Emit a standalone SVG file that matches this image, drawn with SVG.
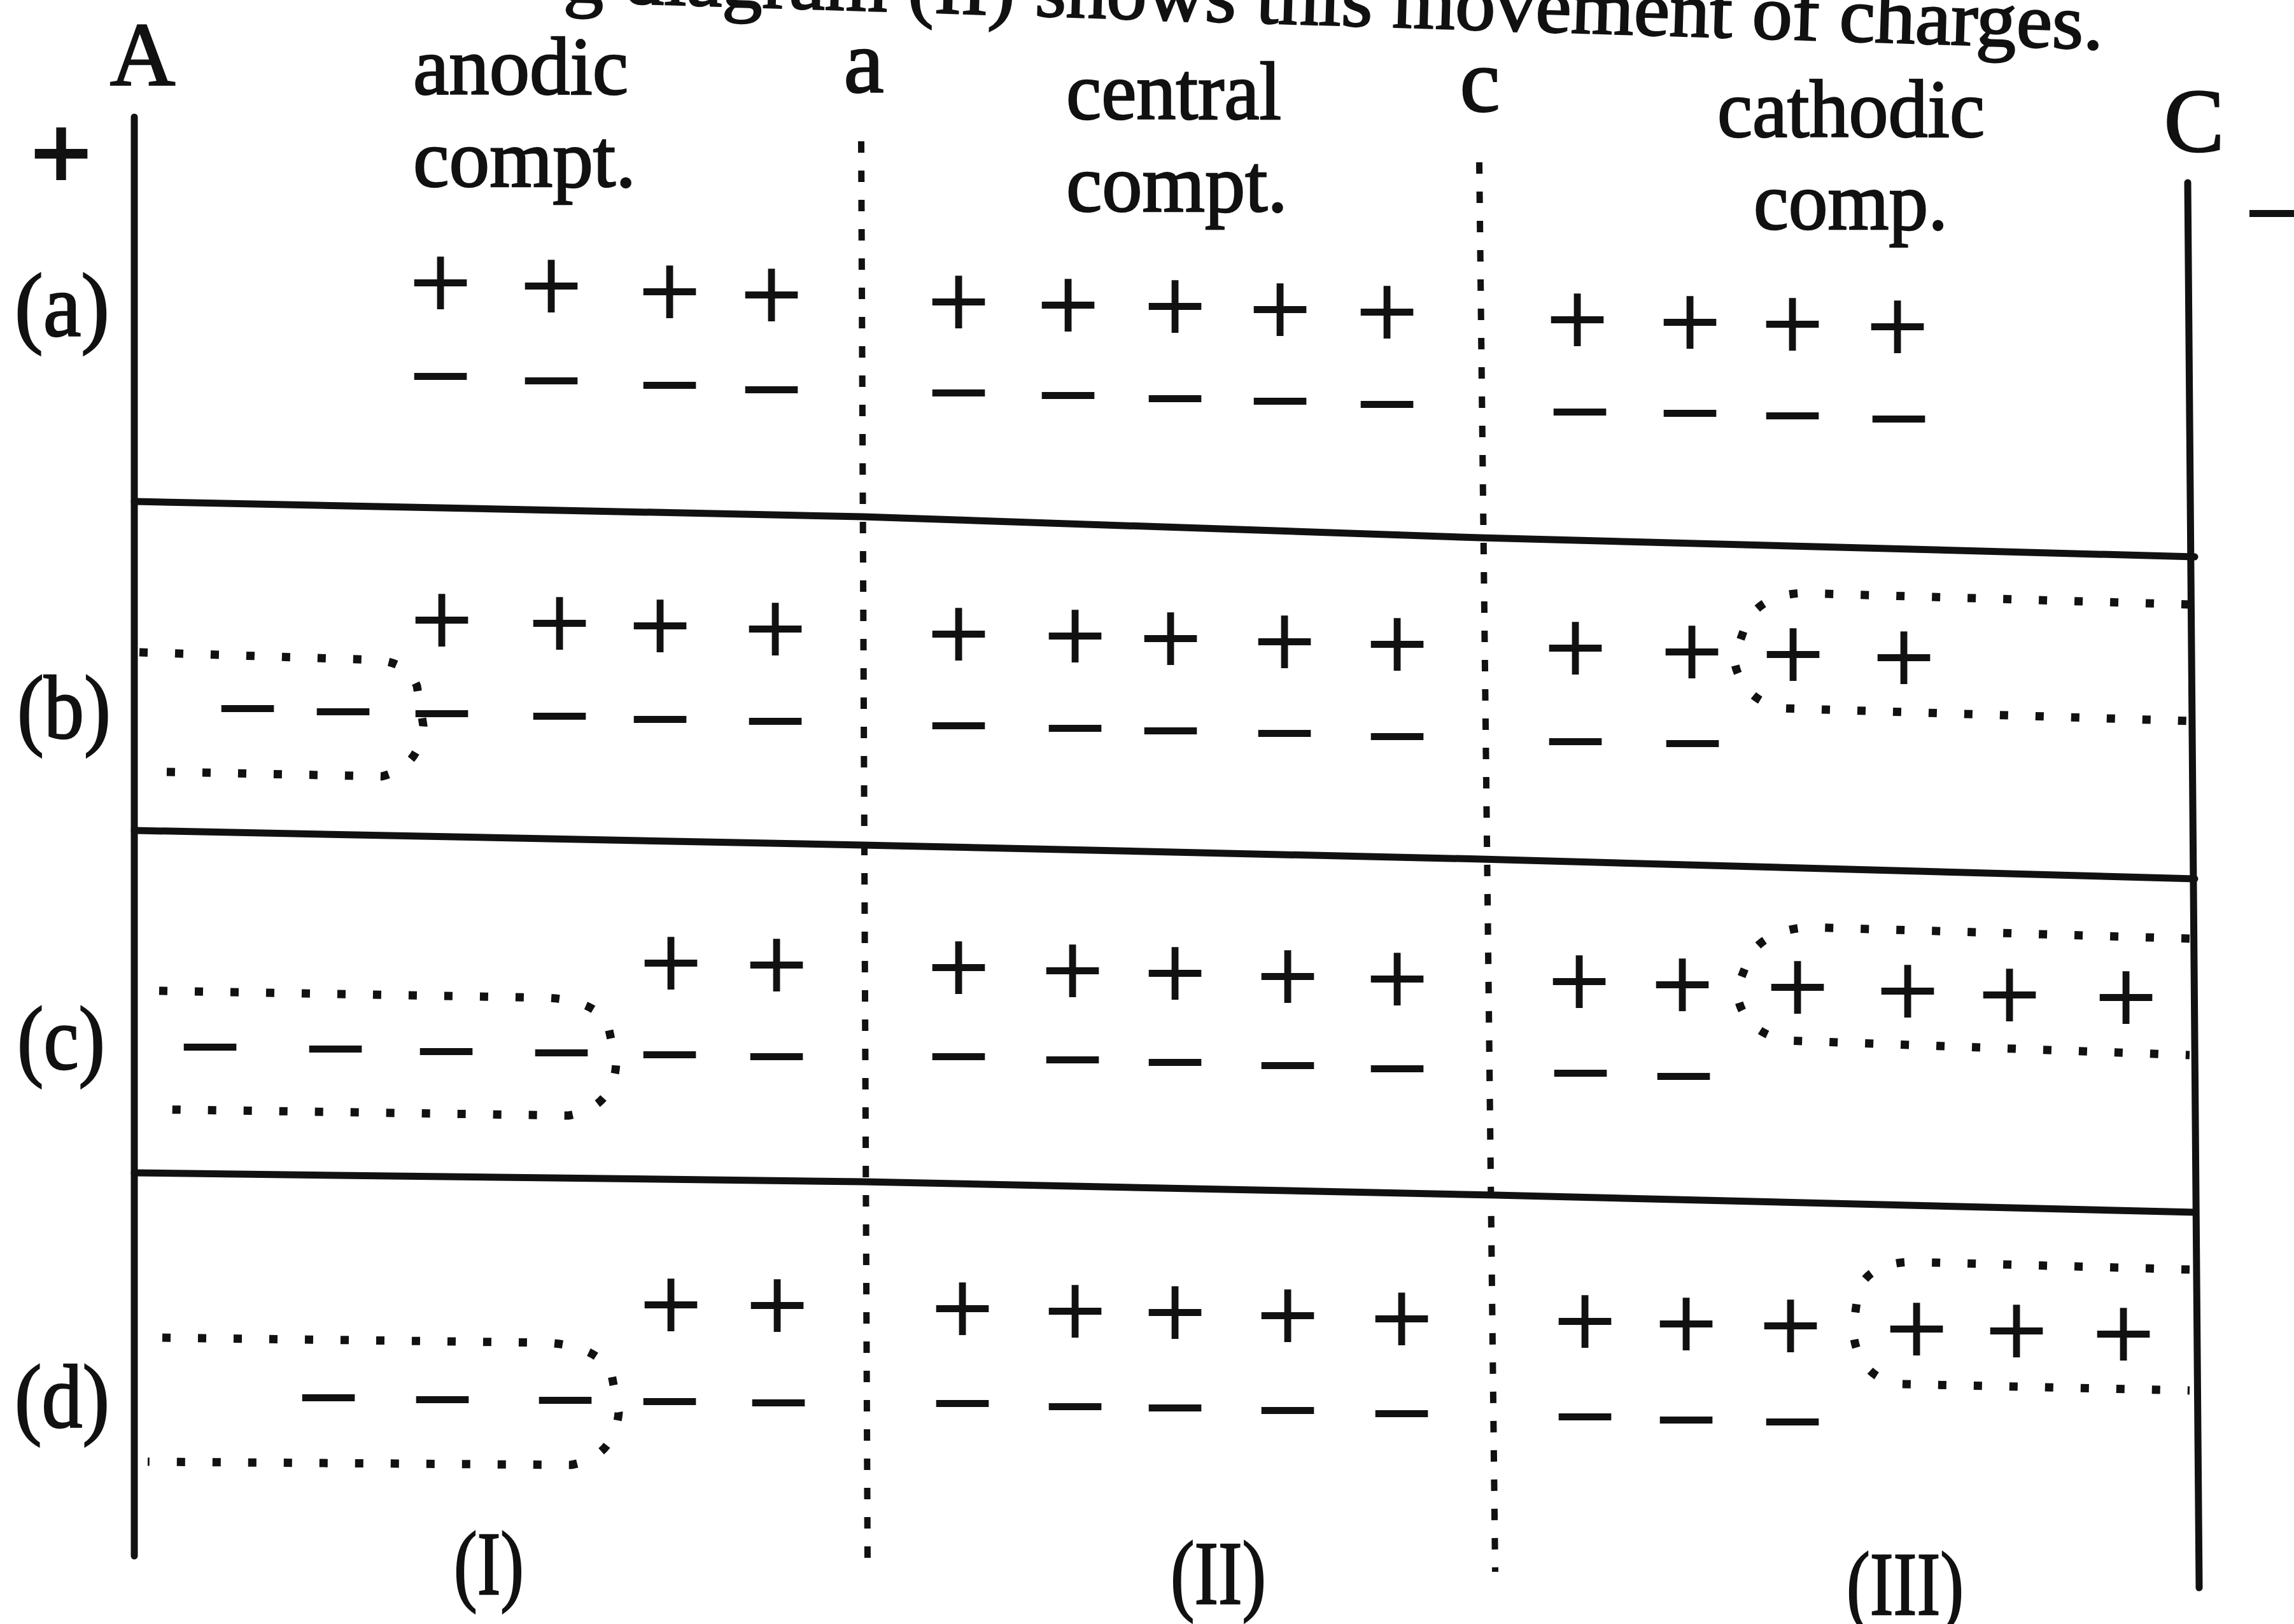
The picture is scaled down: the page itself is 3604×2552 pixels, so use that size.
<svg xmlns="http://www.w3.org/2000/svg" width="3604" height="2552" viewBox="0 0 3604 2552">
<style>
.lbl{font-family:"Liberation Serif","Times New Roman",serif;font-size:142px;fill:#111;stroke:#111;stroke-width:2.5}
.hd{font-size:130px}
.top{font-family:"Liberation Serif","Times New Roman",serif;font-size:122px;fill:#111;stroke:#111;stroke-width:2.5}
.q{font-family:"DejaVu Sans","Liberation Sans",sans-serif;font-size:132px;fill:#111;text-anchor:middle}
.solid{fill:none;stroke:#111;stroke-width:11;stroke-linecap:round;stroke-linejoin:round}
.sep{fill:none;stroke:#111;stroke-width:10;stroke-dasharray:18 28}
.box{fill:none;stroke:#111;stroke-width:13;stroke-dasharray:13 43}
</style>
<rect width="3604" height="2552" fill="#fff"/>
<g id="caption">
<text class="top" x="885" y="2" transform="rotate(1.78 885 2)" textLength="2420" lengthAdjust="spacingAndGlyphs">g diagram (II) shows this movement of charges.</text>
</g>
<g id="connectors">
<line class="solid" x1="211" y1="184" x2="211" y2="2445"/>
<line class="solid" x1="3437" y1="287" x2="3455" y2="2495"/>
<line class="sep" x1="1353" y1="222" x2="1363" y2="2458"/>
<line class="sep" x1="2324" y1="255" x2="2349" y2="2470"/>
<polyline class="solid" stroke-width="13" points="211,788 1356,812 2326,845 3448,875"/>
<polyline class="solid" stroke-width="13" points="211,1305 1356,1328 2326,1350 3448,1381"/>
<polyline class="solid" stroke-width="13" points="211,1843 1356,1857 2349,1878 3448,1905"/>
</g>
<g id="header">
<text class="lbl" x="224" y="133" text-anchor="middle">A</text>
<text class="q" x="96" y="283" font-weight="bold" font-size="140">+</text>
<text class="lbl hd" x="649" y="148" textLength="338" lengthAdjust="spacingAndGlyphs">anodic</text>
<text class="lbl hd" x="649" y="293" textLength="350" lengthAdjust="spacingAndGlyphs">compt.</text>
<text class="lbl" x="1357" y="145" text-anchor="middle">a</text>
<text class="lbl hd" x="1675" y="187" textLength="338" lengthAdjust="spacingAndGlyphs">central</text>
<text class="lbl hd" x="1675" y="332" textLength="348" lengthAdjust="spacingAndGlyphs">compt.</text>
<text class="lbl" x="2325" y="175" text-anchor="middle">c</text>
<text class="lbl hd" x="2698" y="215" textLength="420" lengthAdjust="spacingAndGlyphs">cathodic</text>
<text class="lbl hd" x="2755" y="360" textLength="305" lengthAdjust="spacingAndGlyphs">comp.</text>
<text class="lbl" x="3447" y="238" text-anchor="middle">C</text>
<text class="q" x="3520" y="377" style="text-anchor:start">−</text>
</g>
<g id="row-a">
<text class="lbl" x="23" y="528" textLength="149" lengthAdjust="spacingAndGlyphs">(a)</text>
<g transform="translate(0,-21)">
<text class="q" x="692" y="507">+</text><text class="q" x="866" y="512">+</text><text class="q" x="1052" y="521">+</text><text class="q" x="1212" y="526">+</text>
<text class="q" x="1506" y="537">+</text><text class="q" x="1678" y="542">+</text><text class="q" x="1846" y="544">+</text><text class="q" x="2011" y="549">+</text><text class="q" x="2179" y="553">+</text>
<text class="q" x="2478" y="565">+</text><text class="q" x="2655" y="569">+</text><text class="q" x="2816" y="572">+</text><text class="q" x="2981" y="576">+</text>
<text class="q" x="692" y="654">−</text><text class="q" x="866" y="661">−</text><text class="q" x="1052" y="668">−</text><text class="q" x="1212" y="675">−</text>
<text class="q" x="1506" y="680">−</text><text class="q" x="1678" y="684">−</text><text class="q" x="1846" y="689">−</text><text class="q" x="2011" y="693">−</text><text class="q" x="2179" y="698">−</text>
<text class="q" x="2482" y="710">−</text><text class="q" x="2655" y="712">−</text><text class="q" x="2816" y="716">−</text><text class="q" x="2983" y="721">−</text>
</g>
</g>
<g id="row-b">
<text class="lbl" x="27" y="1160" textLength="147" lengthAdjust="spacingAndGlyphs">(b)</text>
<path class="box" d="M219 1025 L590 1037 Q640 1040 655 1078 L665 1140 Q660 1205 600 1220 L219 1212"/>
<path class="box" d="M3440 950 L2830 932 Q2770 935 2745 975 L2724 1035 Q2735 1100 2800 1113 L3440 1133"/>
<g transform="translate(0,-21)">
<text class="q" x="694" y="1037">+</text><text class="q" x="879" y="1042">+</text><text class="q" x="1037" y="1046">+</text><text class="q" x="1218" y="1051">+</text>
<text class="q" x="1506" y="1059">+</text><text class="q" x="1689" y="1062">+</text><text class="q" x="1839" y="1066">+</text><text class="q" x="2018" y="1071">+</text><text class="q" x="2195" y="1075">+</text>
<text class="q" x="2475" y="1081">+</text><text class="q" x="2658" y="1087">+</text><text class="q" x="2817" y="1091">+</text><text class="q" x="2991" y="1096">+</text>
<text class="q" x="389" y="1176">−</text><text class="q" x="539" y="1181">−</text><text class="q" x="694" y="1184">−</text><text class="q" x="879" y="1188">−</text><text class="q" x="1037" y="1193">−</text><text class="q" x="1218" y="1196">−</text>
<text class="q" x="1506" y="1203">−</text><text class="q" x="1689" y="1207">−</text><text class="q" x="1839" y="1211">−</text><text class="q" x="2018" y="1215">−</text><text class="q" x="2195" y="1220">−</text>
<text class="q" x="2475" y="1228">−</text><text class="q" x="2659" y="1231">−</text>
</g>
</g>
<g id="row-c">
<text class="lbl" x="27" y="1680" textLength="138" lengthAdjust="spacingAndGlyphs">(c)</text>
<path class="box" d="M250 1557 L860 1568 Q935 1572 955 1610 L968 1670 Q965 1740 893 1753 L228 1743"/>
<path class="box" d="M3440 1475 L2840 1457 Q2775 1462 2750 1500 L2728 1555 Q2735 1620 2805 1635 L3440 1658"/>
<g transform="translate(0,-21)">
<text class="q" x="1054" y="1576">+</text><text class="q" x="1220" y="1579">+</text>
<text class="q" x="1506" y="1583">+</text><text class="q" x="1685" y="1588">+</text><text class="q" x="1846" y="1592">+</text><text class="q" x="2023" y="1597">+</text><text class="q" x="2195" y="1601">+</text>
<text class="q" x="2481" y="1605">+</text><text class="q" x="2643" y="1610">+</text><text class="q" x="2824" y="1614">+</text><text class="q" x="2997" y="1620">+</text><text class="q" x="3157" y="1626">+</text><text class="q" x="3340" y="1630">+</text>
<text class="q" x="330" y="1708">−</text><text class="q" x="527" y="1711">−</text><text class="q" x="701" y="1715">−</text><text class="q" x="882" y="1717">−</text><text class="q" x="1052" y="1720">−</text><text class="q" x="1220" y="1723">−</text>
<text class="q" x="1506" y="1723">−</text><text class="q" x="1685" y="1728">−</text><text class="q" x="1846" y="1732">−</text><text class="q" x="2023" y="1737">−</text><text class="q" x="2195" y="1742">−</text>
<text class="q" x="2483" y="1749">−</text><text class="q" x="2645" y="1754">−</text>
</g>
</g>
<g id="row-d">
<text class="lbl" x="23" y="2243" textLength="149" lengthAdjust="spacingAndGlyphs">(d)</text>
<path class="box" d="M255 2102 L860 2110 Q935 2115 960 2155 L972 2220 Q965 2290 897 2302 L232 2297"/>
<path class="box" d="M3440 1995 L3000 1983 Q2940 1985 2920 2025 L2911 2090 Q2918 2165 2985 2175 L3440 2185"/>
<g transform="translate(0,-21)">
<text class="q" x="1054" y="2113">+</text><text class="q" x="1221" y="2114">+</text>
<text class="q" x="1512" y="2119">+</text><text class="q" x="1689" y="2123">+</text><text class="q" x="1846" y="2125">+</text><text class="q" x="2023" y="2130">+</text><text class="q" x="2202" y="2135">+</text>
<text class="q" x="2490" y="2139">+</text><text class="q" x="2649" y="2143">+</text><text class="q" x="2813" y="2146">+</text><text class="q" x="3011" y="2151">+</text><text class="q" x="3168" y="2154">+</text><text class="q" x="3336" y="2159">+</text>
<text class="q" x="516" y="2259">−</text><text class="q" x="695" y="2262">−</text><text class="q" x="888" y="2263">−</text><text class="q" x="1052" y="2265">−</text><text class="q" x="1223" y="2267">−</text>
<text class="q" x="1512" y="2268">−</text><text class="q" x="1689" y="2273">−</text><text class="q" x="1846" y="2275">−</text><text class="q" x="2023" y="2279">−</text><text class="q" x="2202" y="2284">−</text>
<text class="q" x="2490" y="2289">−</text><text class="q" x="2649" y="2294">−</text><text class="q" x="2816" y="2297">−</text>
</g>
</g>
<g id="footer">
<text class="lbl" x="713" y="2505" textLength="110" lengthAdjust="spacingAndGlyphs">(I)</text>
<text class="lbl" x="1839" y="2520" textLength="150" lengthAdjust="spacingAndGlyphs">(II)</text>
<text class="lbl" x="2901" y="2537" textLength="184" lengthAdjust="spacingAndGlyphs">(III)</text>
</g>
</svg>
